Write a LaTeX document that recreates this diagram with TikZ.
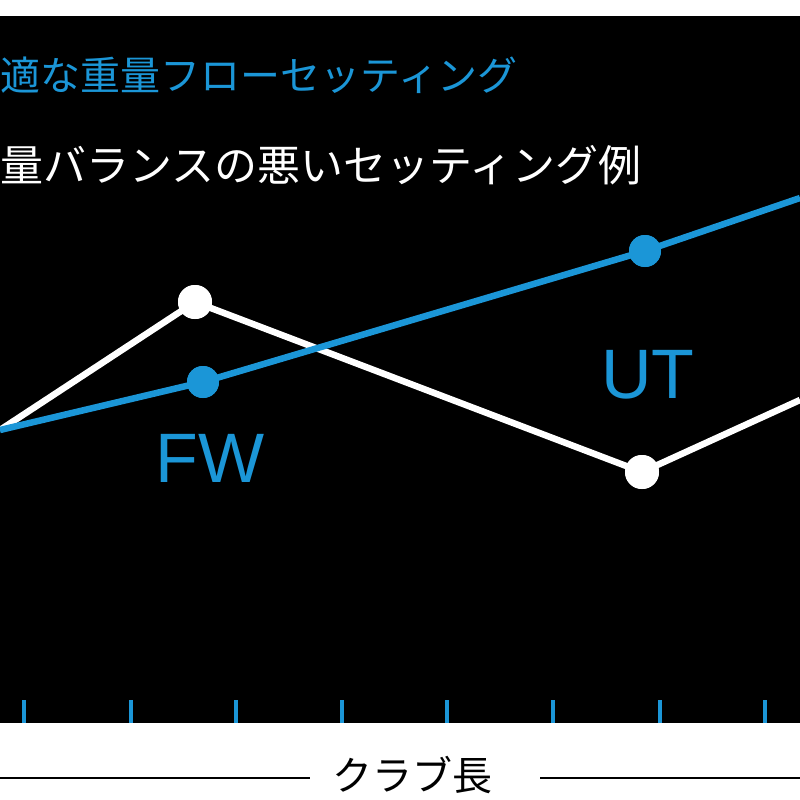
\documentclass[tikz,border=0pt]{standalone}
\usepackage{fontspec}
\newfontfamily\jpfont{Noto Sans CJK JP}
\setsansfont{Liberation Sans}
\definecolor{wblue}{RGB}{27,150,215}
\tikzset{every picture/.style={line width=0.75pt}}
\tikzset{
  bdot/.style={circle,fill=wblue,inner sep=0pt,minimum size=32pt},
  wdot/.style={circle,fill=white,inner sep=0pt,minimum size=34pt},
  tick/.style={wblue,line width=4pt}
}
\begin{document}
\begin{tikzpicture}[x=1pt,y=1pt,yscale=-1,xscale=1]
\useasboundingbox (0,0) rectangle (800,800);
\clip (0,0) rectangle (800,800);
%background
\fill[black] (0,16) rectangle (800,723);
%titles
\node[anchor=west,inner sep=0pt,text=wblue,font=\jpfont\fontsize{40}{40}\selectfont] (tblue) at (-40,75) {最適な重量フローセッティング};
\node[anchor=west,inner sep=0pt,text=white,font=\jpfont\fontsize{43}{43}\selectfont] (twhite) at (-43,165) {重量バランスの悪いセッティング例};
%points
\coordinate (p0) at (0,430);
\coordinate (bend) at (800,198);
\coordinate (wend) at (800,400);
\node[bdot] (fw) at (203,382) {};
\node[bdot] (ut) at (645,251) {};
\node[wdot] (w1) at (195,302) {};
\node[wdot] (w2) at (642,472) {};
%white line
\draw[white,line width=6.5pt] (p0) -- (w1.center) -- (w2.center) -- (wend);
\node[wdot] at (w1) {};
\node[wdot] at (w2) {};
%blue line
\draw[wblue,line width=6.5pt] (p0) -- (fw.center) -- (ut.center) -- (bend);
\node[bdot] at (fw) {};
\node[bdot] at (ut) {};
%labels
\node[text=wblue,font=\sffamily\fontsize{70}{70}\selectfont] (lfw) at (210,458) {FW};
\node[text=wblue,font=\sffamily\fontsize{70}{70}\selectfont] (lut) at (648,375) {UT};
%ticks
\foreach \x in {24,131,236,342,447,553,660,765}
  \draw[tick] (\x,700) -- (\x,723);
%axis label
\node[font=\jpfont\fontsize{40}{40}\selectfont,inner sep=0pt] (axl) at (412,775) {クラブ長};
\coordinate (la) at (0,778);
\coordinate (ra) at (800,778);
\draw[line width=1.5pt] (la) -- (310,778);
\draw[line width=1.5pt] (540,778) -- (ra);
\end{tikzpicture}
\end{document}
